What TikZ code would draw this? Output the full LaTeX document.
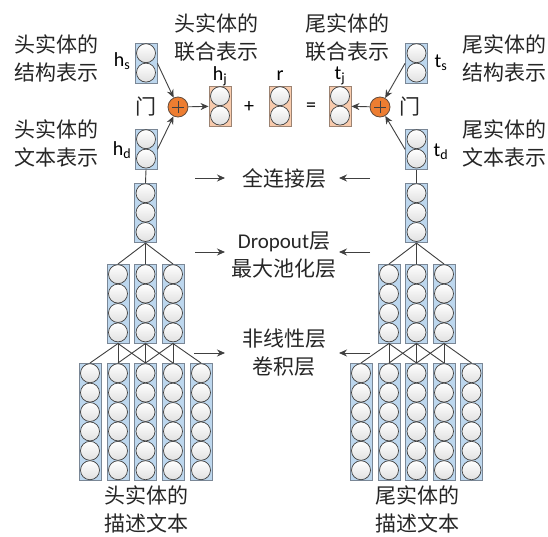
\documentclass[tikz,border=0pt]{standalone}
\usepackage{fontspec}
\setmainfont{Carlito}
\newfontfamily\cjk{Noto Sans CJK SC}
\usetikzlibrary{arrows.meta}
\definecolor{boxblue}{HTML}{BDD7EE}
\definecolor{boxblueline}{HTML}{7A8796}
\definecolor{boxorange}{HTML}{F8CBAD}
\definecolor{boxorangeline}{HTML}{9C8372}
\definecolor{gateorange}{HTML}{ED7D31}
\definecolor{ink}{HTML}{404040}
\tikzset{
  blu/.style={draw=boxblueline, fill=boxblue, line width=0.9pt, minimum width=22pt, inner sep=0pt},
  org/.style={draw=boxorangeline, fill=boxorange, line width=0.9pt, minimum width=22pt, inner sep=0pt},
  neuron/.style={circle, draw=ink, line width=0.7pt, minimum size=19pt, inner sep=0pt, top color=white, bottom color=black!12},
  gate/.style={circle, draw=ink!80!gateorange, fill=gateorange, line width=0.8pt, minimum size=20pt, inner sep=0pt},
  conn/.style={draw=ink, line width=0.9pt},
  arr/.style={draw=ink, line width=0.9pt, -{Stealth[length=8pt,width=7pt]}},
  cjklab/.style={font=\cjk\fontsize{21}{28}\selectfont, align=center, text=black!85, inner sep=0pt},
  latlab/.style={font=\fontsize{20}{24}\selectfont, text=black, inner sep=0pt},
}
\newcommand{\nstack}[5]{%
  \node[#5, minimum height={#4*19.4+1}, anchor=north] (#1) at (#2,#3) {};
  \foreach \k in {1,...,#4}{\node[neuron] (#1-\k) at (#2,{#3+0.5+19.4*(\k-0.5)}) {};}
}
\begin{document}
\begin{tikzpicture}[x=1pt,y=-1pt]
\path[use as bounding box, fill=white] (0,0) rectangle (548,536);

% ---- top row
\nstack{hs}{146}{43}{2}{blu}
\nstack{hd}{146}{129}{2}{blu}
\nstack{hj}{220}{86}{2}{org}
\nstack{r}{280}{86}{2}{org}
\nstack{tj}{340}{86}{2}{org}
\nstack{ts}{416.5}{43}{2}{blu}
\nstack{td}{416.5}{129}{2}{blu}

\node[gate] (gl) at (178,107) {};
\node[gate] (gr) at (380,107) {};
\foreach \g in {gl,gr}{
  \draw[ink, line width=0.8pt] ([xshift=-6pt]\g.center) -- ([xshift=6pt]\g.center);
  \draw[ink, line width=0.8pt] ([yshift=-6pt]\g.center) -- ([yshift=6pt]\g.center);
}

\draw[arr] (hs.east) -- (gl);
\draw[arr] (hd.east) -- (gl);
\draw[arr] (gl) -- (hj.west);
\draw[arr] (ts.west) -- (gr);
\draw[arr] (td.west) -- (gr);
\draw[arr] (gr) -- (tj.east);

\node[latlab] (lhs) at (122,61) {h\textsubscript{s}};
\node[latlab] (lhd) at (122,150) {h\textsubscript{d}};
\node[latlab] (lhj) at (220,76) {h\textsubscript{j}};
\node[latlab] (lr) at (280,76) {r};
\node[latlab] (ltj) at (340,76) {t\textsubscript{j}};
\node[latlab] (lts) at (441,63) {t\textsubscript{s}};
\node[latlab] (ltd) at (441,152) {t\textsubscript{d}};
\node[latlab] (plus) at (249,107) {+};
\node[latlab] (eq) at (311,107) {=};
\node[cjklab] (gatel) at (146,107) {门};
\node[cjklab] (gater) at (410,107) {门};

\node[cjklab] (t1) at (56.5,58) {头实体的\\结构表示};
\node[cjklab] (t2) at (56.5,143) {头实体的\\文本表示};
\node[cjklab] (t3) at (216.5,37.5) {头实体的\\联合表示};
\node[cjklab] (t4) at (347.5,37.5) {尾实体的\\联合表示};
\node[cjklab] (t5) at (504,58) {尾实体的\\结构表示};
\node[cjklab] (t6) at (504,143) {尾实体的\\文本表示};

% ---- left tower
\nstack{fcl}{145.5}{183}{3}{blu}
\foreach \i/\x in {1/118,2/145.5,3/173}{\nstack{pl\i}{\x}{264}{4}{blu}}
\foreach \i/\x in {1/90,2/118,3/145.5,4/173,5/201}{\nstack{cl\i}{\x}{363}{6}{blu}}
\draw[conn] (hd.south) -- (fcl.north);
\foreach \i in {1,2,3}{\draw[conn] (fcl.south) -- (pl\i.north);}
\foreach \i/\a/\b/\c in {1/1/2/3,2/2/3/4,3/3/4/5}{
  \draw[conn] (pl\i.south) -- (cl\a.north);
  \draw[conn] (pl\i.south) -- (cl\b.north);
  \draw[conn] (pl\i.south) -- (cl\c.north);
}

% ---- right tower
\nstack{fcr}{416.5}{183}{3}{blu}
\foreach \i/\x in {1/389,2/416.5,3/444}{\nstack{pr\i}{\x}{264}{4}{blu}}
\foreach \i/\x in {1/361,2/389,3/416.5,4/444,5/471.5}{\nstack{cr\i}{\x}{363}{6}{blu}}
\draw[conn] (td.south) -- (fcr.north);
\foreach \i in {1,2,3}{\draw[conn] (fcr.south) -- (pr\i.north);}
\foreach \i/\a/\b/\c in {1/1/2/3,2/2/3/4,3/3/4/5}{
  \draw[conn] (pr\i.south) -- (cr\a.north);
  \draw[conn] (pr\i.south) -- (cr\b.north);
  \draw[conn] (pr\i.south) -- (cr\c.north);
}

% ---- middle labels
\node[cjklab] (m1) at (284,178) {全连接层};
\node[cjklab] (m2) at (284,255) {{\fontspec{Carlito}Dropout}层\\最大池化层};
\node[cjklab] (m3) at (284,353) {非线性层\\卷积层};
\coordinate (a1l) at (195,178); \coordinate (a1r) at (225,178);
\coordinate (b1l) at (370,178); \coordinate (b1r) at (339,178);
\coordinate (a2l) at (195,252); \coordinate (a2r) at (225,252);
\coordinate (b2l) at (370,252); \coordinate (b2r) at (339,252);
\coordinate (a3l) at (194,353); \coordinate (a3r) at (225,353);
\coordinate (b3l) at (370,353); \coordinate (b3r) at (339,353);
\draw[arr] (a1l) -- (a1r); \draw[arr] (b1l) -- (b1r);
\draw[arr] (a2l) -- (a2r); \draw[arr] (b2l) -- (b2r);
\draw[arr] (a3l) -- (a3r); \draw[arr] (b3l) -- (b3r);

% ---- bottom labels
\node[cjklab] (bl) at (146,509) {头实体的\\描述文本};
\node[cjklab] (br) at (417,509) {尾实体的\\描述文本};
\end{tikzpicture}
\end{document}
